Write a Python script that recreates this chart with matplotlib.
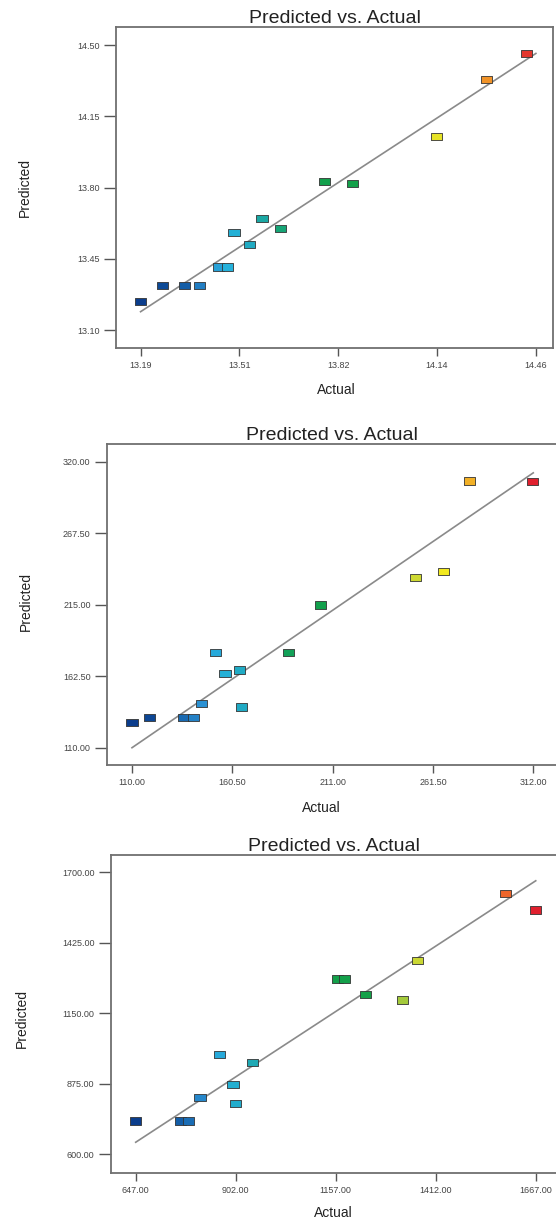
import numpy as np
import matplotlib
matplotlib.use("Agg")
import matplotlib.pyplot as plt
from matplotlib.colors import LinearSegmentedColormap

plt.rcParams['font.family'] = ['Liberation Sans', 'DejaVu Sans']

# panel 1
actual1 = [13.19, 13.26, 13.33, 13.38, 13.44, 13.47, 13.49, 13.54, 13.58, 13.64, 13.78, 13.87, 14.14, 14.30, 14.43]
pred1 = [13.24, 13.32, 13.32, 13.32, 13.41, 13.41, 13.58, 13.52, 13.65, 13.60, 13.83, 13.82, 14.05, 14.33, 14.46]
xticks1 = [13.19, 13.5075, 13.825, 14.1425, 14.46]
xlabels1 = ["13.19", "13.51", "13.82", "14.14", "14.46"]
yticks1 = [13.10, 13.45, 13.80, 14.15, 14.50]

# panel 2
actual2 = [110.0, 118.9, 135.8, 141.1, 145.1, 152.0, 156.8, 164.0, 165.0, 188.8, 204.8, 252.9, 267.0, 279.8, 311.8]
pred2 = [128.6, 132.3, 132.3, 132.3, 142.6, 180.1, 164.4, 167.1, 139.9, 179.8, 214.9, 235.0, 239.6, 306.0, 305.5]
xticks2 = [110.0, 160.5, 211.0, 261.5, 312.0]
xlabels2 = ["110.00", "160.50", "211.00", "261.50", "312.00"]
yticks2 = [110.0, 162.5, 215.0, 267.5, 320.0]

# panel 3
actual3 = [647, 762, 782, 811, 861, 895, 902, 945, 1162, 1179, 1234, 1328, 1365, 1591, 1667]
pred3 = [730, 730, 730, 822, 989, 873, 799, 959, 1284, 1284, 1223, 1202, 1357, 1618, 1553]
xticks3 = [647.0, 902.0, 1157.0, 1412.0, 1667.0]
xlabels3 = ["647.00", "902.00", "1157.00", "1412.00", "1667.00"]
yticks3 = [600.0, 875.0, 1150.0, 1425.0, 1700.0]

# colour ramp like the Design-Expert one
cmap = LinearSegmentedColormap.from_list("de", [
    (0.00, "#0b3d8c"), (0.10, "#0f55a0"), (0.17, "#2a8fd2"), (0.22, "#25b2dc"),
    (0.28, "#1fa9bf"), (0.33, "#18a88a"), (0.40, "#11a04e"), (0.58, "#14a048"),
    (0.66, "#9ec83c"), (0.72, "#d8dc30"), (0.78, "#f4ea1e"), (0.86, "#f2a028"),
    (0.92, "#ee6a2a"), (1.00, "#e0202e")])

rect = [(-1, -0.65), (1, -0.65), (1, 0.65), (-1, 0.65), (-1, -0.65)]

fig = plt.figure(figsize=(5.56, 12.23), dpi=100)
W, H = 556.0, 1223.0

panels = [
    # actual, pred, xticks, xlabels, yticks, box px (l, t, r, b), xlim, ylim, ylabel pos, xlabel pos
    (actual1, pred1, xticks1, xlabels1, yticks1, (116, 27, 553, 348),
     (13.111, 14.515), (13.0115, 14.590), (-0.208, 0.5), (0.505, -0.131)),
    (actual2, pred2, xticks2, xlabels2, yticks2, (106.7, 444, 557.7, 765),
     (97.27, 324.3), (97.3, 333.2), (-0.179, 0.508), (0.477, -0.134)),
    (actual3, pred3, xticks3, xlabels3, yticks3, (110.7, 854.7, 557.7, 1172.7),
     (583.25, 1723.0), (528.2, 1768.7), (-0.198, 0.486), (0.497, -0.127)),
]

for act, pre, xt, xl, yt, box, xlim, ylim, ylp, xlp in panels:
    l, t, r, b = box
    ax = fig.add_axes([l / W, 1 - b / H, (r - l) / W, (b - t) / H])
    ax.plot([xt[0], xt[-1]], [xt[0], xt[-1]], color="#8a8a8a", lw=1.2, zorder=2)
    ax.scatter(act, pre, c=act, cmap=cmap, vmin=xt[0], vmax=xt[-1],
               marker=rect, s=64, edgecolors="#333333", linewidths=0.6, zorder=3)
    ax.set_xlim(*xlim)
    ax.set_ylim(*ylim)
    ax.set_xticks(xt)
    ax.set_xticklabels(xl)
    ax.set_yticks(yt)
    ax.set_yticklabels(["%.2f" % v for v in yt])
    for s in ax.spines.values():
        s.set_color("#707070")
        s.set_linewidth(1.3)
    ax.tick_params(axis="x", direction="out", length=6, width=1, color="#555555",
                   labelsize=6.5, labelcolor="#444444", pad=3.5)
    ax.tick_params(axis="y", direction="out", length=8.6, width=1, color="#555555",
                   labelsize=6.5, labelcolor="#444444", pad=3)
    ax.set_title("Predicted vs. Actual", fontsize=14, color="#222222", pad=3)
    ax.set_xlabel("Actual", fontsize=10, color="#222222")
    ax.set_ylabel("Predicted", fontsize=10, color="#222222")
    ax.xaxis.set_label_coords(*xlp)
    ax.yaxis.set_label_coords(*ylp)
    ax.xaxis.label.set_va("center")
    ax.yaxis.label.set_va("center")

fig.savefig("out.png", dpi=100)
